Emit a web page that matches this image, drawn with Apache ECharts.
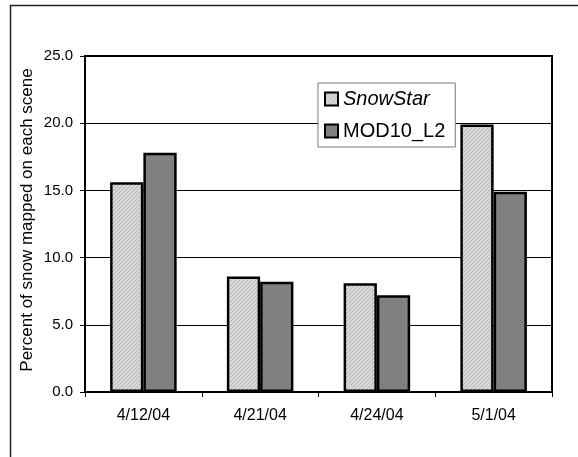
<!DOCTYPE html>
<html>
<head>
<meta charset="utf-8">
<script src="https://cdn.jsdelivr.net/npm/echarts@6/dist/echarts.min.js"></script>
<style>
html,body{margin:0;padding:0;background:#fff;}
#chart{width:578px;height:457px;}
</style>
</head>
<body>
<div id="chart"></div>
<script>
const categories = ['4/12/04', '4/21/04', '4/24/04', '5/1/04'];
const snowStar = [15.6, 8.6, 8.1, 19.9];
const mod10L2 = [17.8, 8.2, 7.2, 14.9];
const seriesNames = ['SnowStar', 'MOD10_L2'];
const yTicks = [0, 5, 10, 15, 20, 25];
const yTitle = 'Percent of snow mapped on each scene';

// fine diagonal hatch for light bars
const pc = document.createElement('canvas');
pc.width = 4; pc.height = 4;
const pctx = pc.getContext('2d');
pctx.fillStyle = '#d8d8d8';
pctx.fillRect(0, 0, 4, 4);
pctx.fillStyle = '#b6b6b6';
for (let i = 0; i < 4; i++) { pctx.fillRect(i, 3 - i, 1, 1); }
const hatch = { image: pc, repeat: 'repeat' };

const FONT = 'Liberation Sans, Arial, sans-serif';
const chart = echarts.init(document.getElementById('chart'), null, { renderer: 'canvas' });
chart.setOption({
  backgroundColor: '#fff',
  animation: false,
  textStyle: { fontFamily: FONT, color: '#000' },
  graphic: [{
    type: 'rect',
    shape: { x: 10.5, y: 5.5, width: 600, height: 500 },
    style: { fill: 'none', stroke: '#222', lineWidth: 1.5 },
    silent: true,
    z: -1
  }, {
    type: 'text',
    x: 27, y: 220,
    rotation: Math.PI / 2,
    silent: true,
    style: {
      text: yTitle,
      fontFamily: FONT, fontSize: 17, fill: '#000',
      textAlign: 'center', textVerticalAlign: 'middle'
    }
  }],
  grid: {
    left: 85, right: 26, top: 56, bottom: 65,
    show: true, borderColor: '#000', borderWidth: 2, backgroundColor: '#fff'
  },
  legend: {
    data: seriesNames,
    orient: 'vertical',
    left: 318, top: 83,
    backgroundColor: '#fff',
    borderColor: '#7a7a7a',
    borderWidth: 1,
    padding: [6, 10, 6, 6],
    itemWidth: 13, itemHeight: 13,
    itemGap: 12,
    icon: 'rect',
    itemStyle: { borderColor: '#000', borderWidth: 2 },
    formatter: function (name) { return name === 'SnowStar' ? '{i|' + name + '}' : '{n|' + name + '}'; },
    textStyle: {
      fontFamily: FONT, fontSize: 20, color: '#000',
      rich: {
        i: { fontStyle: 'italic', fontSize: 20, fontFamily: FONT, color: '#000' },
        n: { fontSize: 20, fontFamily: FONT, color: '#000' }
      }
    }
  },
  xAxis: {
    type: 'category',
    data: categories,
    axisLine: { lineStyle: { color: '#000', width: 2 } },
    axisTick: { show: true, length: 5, lineStyle: { color: '#000', width: 1 } },
    axisLabel: { fontFamily: FONT, fontSize: 16, color: '#000', margin: 16 }
  },
  yAxis: {
    type: 'value',
    min: yTicks[0], max: yTicks[yTicks.length - 1], interval: 5,
    axisLine: { show: true, lineStyle: { color: '#000', width: 2 } },
    axisTick: { show: true, length: 5, lineStyle: { color: '#000', width: 1 } },
    axisLabel: { fontFamily: FONT, fontSize: 15, color: '#000', margin: 12,
      formatter: function (v) { return v.toFixed(1); } },
    splitLine: { show: true, lineStyle: { color: '#000', width: 1 } }
  },
  series: [
    {
      name: seriesNames[0], type: 'bar', data: snowStar,
      barWidth: '28.5%', barGap: '0%',
      itemStyle: { color: hatch, borderColor: '#000', borderWidth: 2.5 }
    },
    {
      name: seriesNames[1], type: 'bar', data: mod10L2,
      barWidth: '28.5%', barGap: '0%',
      itemStyle: { color: '#808080', borderColor: '#000', borderWidth: 2.5 }
    }
  ]
});
</script>
</body>
</html>
